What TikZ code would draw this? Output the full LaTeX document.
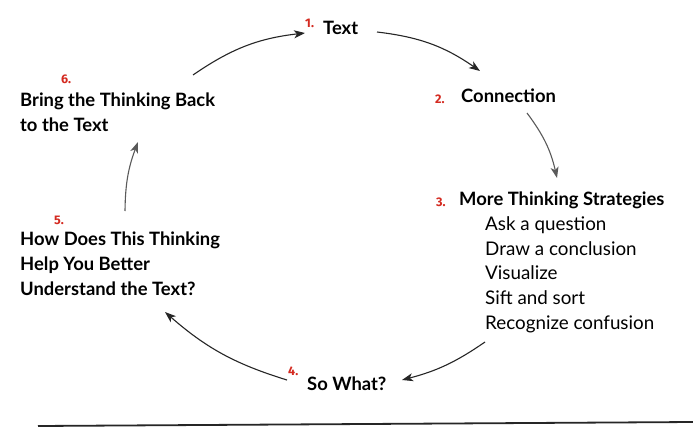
\documentclass[tikz,border=0pt]{standalone}
\usepackage{fontspec}
\setmainfont{Lato}
\newfontfamily\numfont{Fira Sans}
\usetikzlibrary{arrows.meta}
\definecolor{numred}{HTML}{D42A20}
\definecolor{arrdark}{HTML}{262626}
\definecolor{arrgray}{HTML}{5A5A5A}
\begin{document}
\begin{tikzpicture}[x=1pt,y=1pt,
  head/.style={anchor=base west, inner sep=0pt, font=\fontsize{18.4}{22}\selectfont\bfseries},
  item/.style={anchor=base west, inner sep=0pt, font=\fontsize{18.8}{22}\selectfont},
  num/.style={anchor=base west, inner sep=0pt, text=numred, font=\numfont\fontsize{12.5}{15}\selectfont\bfseries},
  flow/.style={-{Stealth[length=11pt,width=8pt,inset=3pt]}, line width=1.1pt, draw=arrdark},
  flowgray/.style={flow, draw=arrgray}]
\path[use as bounding box, fill=white] (0,0) rectangle (693,-428);

% step 1
\node[num]  (n1) at (305,-28) {1.};
\node[head] (t1) at (323,-35) {Text};
% step 2
\node[num]  (n2) at (435,-103) {2.};
\node[head] (t2) at (461,-102) {Connection};
% step 3
\node[num]  (n3) at (436,-206) {3.};
\node[head] (t3) at (459,-205) {More Thinking Strategies};
\node[item] (i1) at (485,-230) {Ask a question};
\node[item] (i2) at (485,-255) {Draw a conclusion};
\node[item] (i3) at (485,-279) {Visualize};
\node[item] (i4) at (485,-304) {Sift and sort};
\node[item] (i5) at (485,-329) {Recognize confusion};
% step 4
\node[num]  (n4) at (288,-375) {4.};
\node[head] (t4) at (307,-390) {So What?};
% step 5
\node[num]  (n5) at (54,-224) {5.};
\node[head] (t5a) at (20,-245) {How Does This Thinking};
\node[head] (t5b) at (20,-270) {Help You Better};
\node[head] (t5c) at (20,-295) {Understand the Text?};
% step 6
\node[num]  (n6) at (61,-83) {6.};
\node[head] (t6a) at (20,-106) {Bring the Thinking Back};
\node[head] (t6b) at (20,-131) {to the Text};

% arrow end points
\coordinate (a6s) at (193,-75);  \coordinate (a6e) at (305,-33);
\coordinate (a1s) at (377,-32);  \coordinate (a1e) at (480,-71);
\coordinate (a2s) at (527,-113); \coordinate (a2e) at (557,-178);
\coordinate (a3s) at (485,-342); \coordinate (a3e) at (402,-380);
\coordinate (a4s) at (287,-380); \coordinate (a4e) at (165,-312);
\coordinate (a5s) at (125,-211); \coordinate (a5e) at (138,-142);

\draw[flow]     (a6s) to[bend left=14] (a6e);
\draw[flow]     (a1s) to[bend left=14] (a1e);
\draw[flowgray] (a2s) to[bend left=12] (a2e);
\draw[flow]     (a3s) to[bend left=10] (a3e);
\draw[flow]     (a4s) to[bend left=12] (a4e);
\draw[flowgray] (a5s) to[bend left=10] (a5e);

% bottom rule
\coordinate (r1) at (38,-426); \coordinate (r2) at (693,-422);
\draw[line width=1.8pt, draw=arrdark] (r1) -- (r2);
\end{tikzpicture}
\end{document}
